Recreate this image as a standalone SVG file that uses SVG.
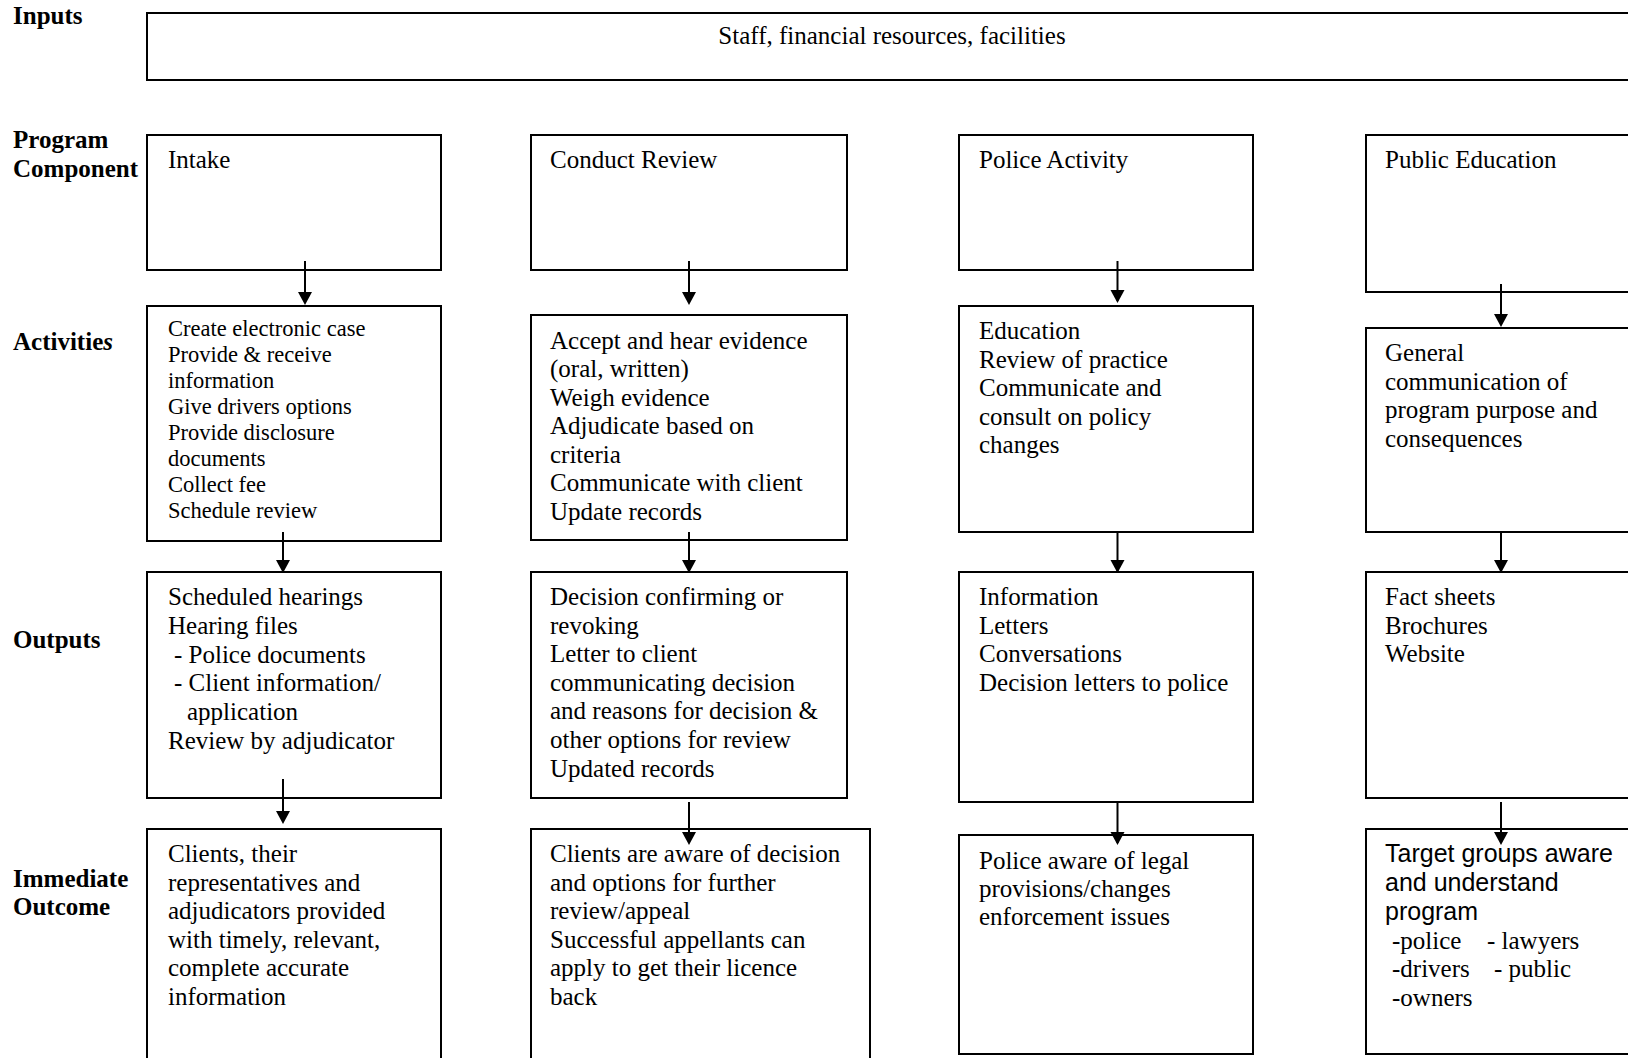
<svg xmlns="http://www.w3.org/2000/svg" width="1628" height="1058" viewBox="0 0 1628 1058">
<style>
.box{fill:#fff;stroke:#000;stroke-width:2}
.t{font-family:"Liberation Serif","Times New Roman",serif;font-size:25px;fill:#000}
.s{font-family:"Liberation Serif","Times New Roman",serif;font-size:22.5px;fill:#000}
.a{font-family:"Liberation Sans",Arial,sans-serif;font-size:25px;fill:#000}
.lbl{font-family:"Liberation Serif","Times New Roman",serif;font-size:25px;font-weight:bold;fill:#000}
.c{stroke:#000;stroke-width:2;fill:none;marker-end:url(#ah)}
</style>
<defs>
<marker id="ah" markerUnits="userSpaceOnUse" markerWidth="16" markerHeight="16" viewBox="0 -8 13 16" refX="11" refY="0" orient="auto">
<path d="M0,-7 L13,0 L0,7 Z" fill="#000"/>
</marker>
</defs>
<rect width="1628" height="1058" fill="#fff"/>

<g id="labels">
<text class="lbl" x="13" y="24">Inputs</text>
<text class="lbl" x="13" y="148">Program</text>
<text class="lbl" x="13" y="177">Component</text>
<text class="lbl" x="13" y="350">Activitie<tspan font-style="italic">s</tspan></text>
<text class="lbl" x="13" y="648">Outputs</text>
<text class="lbl" x="13" y="887">Immediate</text>
<text class="lbl" x="13" y="915">Outcome</text>
</g>

<g id="inputs">
<rect class="box" x="147" y="13" width="1500" height="67"/>
<text class="t" x="892" y="44" text-anchor="middle">Staff, financial resources, facilities</text>
</g>

<g id="intake">
<rect class="box" x="147" y="135" width="294" height="135"/>
<text class="t" x="168" y="168">Intake</text>
</g>
<g id="conduct-review">
<rect class="box" x="531" y="135" width="316" height="135"/>
<text class="t" x="550" y="168">Conduct Review</text>
</g>
<g id="police-activity">
<rect class="box" x="959" y="135" width="294" height="135"/>
<text class="t" x="979" y="168">Police Activity</text>
</g>
<g id="public-education">
<rect class="box" x="1366" y="135" width="280" height="157"/>
<text class="t" x="1385" y="168">Public Education</text>
</g>

<g id="intake-activities">
<rect class="box" x="147" y="306" width="294" height="235"/>
<text class="s">
<tspan x="168" y="336">Create electronic case</tspan>
<tspan x="168" y="362">Provide &amp; receive</tspan>
<tspan x="168" y="388">information</tspan>
<tspan x="168" y="414">Give drivers options</tspan>
<tspan x="168" y="440">Provide disclosure</tspan>
<tspan x="168" y="466">documents</tspan>
<tspan x="168" y="492">Collect fee</tspan>
<tspan x="168" y="518">Schedule review</tspan>
</text>
</g>
<g id="review-activities">
<rect class="box" x="531" y="315" width="316" height="225"/>
<text class="t">
<tspan x="550" y="348.5">Accept and hear evidence</tspan>
<tspan x="550" y="377">(oral, written)</tspan>
<tspan x="550" y="405.5">Weigh evidence</tspan>
<tspan x="550" y="434">Adjudicate based on</tspan>
<tspan x="550" y="462.5">criteria</tspan>
<tspan x="550" y="491">Communicate with client</tspan>
<tspan x="550" y="519.5">Update records</tspan>
</text>
</g>
<g id="police-activities">
<rect class="box" x="959" y="306" width="294" height="226"/>
<text class="t">
<tspan x="979" y="339">Education</tspan>
<tspan x="979" y="367.5">Review of practice</tspan>
<tspan x="979" y="396">Communicate and</tspan>
<tspan x="979" y="424.5">consult on policy</tspan>
<tspan x="979" y="453">changes</tspan>
</text>
</g>
<g id="education-activities">
<rect class="box" x="1366" y="328" width="280" height="204"/>
<text class="t">
<tspan x="1385" y="361">General</tspan>
<tspan x="1385" y="389.5">communication of</tspan>
<tspan x="1385" y="418">program purpose and</tspan>
<tspan x="1385" y="446.5">consequences</tspan>
</text>
</g>

<g id="intake-outputs">
<rect class="box" x="147" y="572" width="294" height="226"/>
<text class="t">
<tspan x="168" y="605">Scheduled hearings</tspan>
<tspan x="168" y="633.8">Hearing files</tspan>
<tspan x="174" y="662.6">- Police documents</tspan>
<tspan x="174" y="691.4">- Client information/</tspan>
<tspan x="187" y="720.2">application</tspan>
<tspan x="168" y="749">Review by adjudicator</tspan>
</text>
</g>
<g id="review-outputs">
<rect class="box" x="531" y="572" width="316" height="226"/>
<text class="t">
<tspan x="550" y="605">Decision confirming or</tspan>
<tspan x="550" y="633.6">revoking</tspan>
<tspan x="550" y="662.2">Letter to client</tspan>
<tspan x="550" y="690.8">communicating decision</tspan>
<tspan x="550" y="719.4">and reasons for decision &amp;</tspan>
<tspan x="550" y="748">other options for review</tspan>
<tspan x="550" y="776.6">Updated records</tspan>
</text>
</g>
<g id="police-outputs">
<rect class="box" x="959" y="572" width="294" height="230"/>
<text class="t">
<tspan x="979" y="605">Information</tspan>
<tspan x="979" y="633.6">Letters</tspan>
<tspan x="979" y="662.2">Conversations</tspan>
<tspan x="979" y="690.8">Decision letters to police</tspan>
</text>
</g>
<g id="education-outputs">
<rect class="box" x="1366" y="572" width="280" height="226"/>
<text class="t">
<tspan x="1385" y="605">Fact sheets</tspan>
<tspan x="1385" y="633.6">Brochures</tspan>
<tspan x="1385" y="662.2">Website</tspan>
</text>
</g>

<g id="intake-outcome">
<rect class="box" x="147" y="829" width="294" height="250"/>
<text class="t">
<tspan x="168" y="862">Clients, their</tspan>
<tspan x="168" y="890.6">representatives and</tspan>
<tspan x="168" y="919.2">adjudicators provided</tspan>
<tspan x="168" y="947.8">with timely, relevant,</tspan>
<tspan x="168" y="976.4">complete accurate</tspan>
<tspan x="168" y="1005">information</tspan>
</text>
</g>
<g id="review-outcome">
<rect class="box" x="531" y="829" width="339" height="250"/>
<text class="t">
<tspan x="550" y="862">Clients are aware of decision</tspan>
<tspan x="550" y="890.6">and options for further</tspan>
<tspan x="550" y="919.2">review/appeal</tspan>
<tspan x="550" y="947.8">Successful appellants can</tspan>
<tspan x="550" y="976.4">apply to get their licence</tspan>
<tspan x="550" y="1005">back</tspan>
</text>
</g>
<g id="police-outcome">
<rect class="box" x="959" y="835" width="294" height="219"/>
<text class="t">
<tspan x="979" y="868.5">Police aware of legal</tspan>
<tspan x="979" y="897">provisions/changes</tspan>
<tspan x="979" y="924.5">enforcement issues</tspan>
</text>
</g>
<g id="education-outcome">
<rect class="box" x="1366" y="829" width="280" height="225"/>
<text class="a">
<tspan x="1385" y="861.5">Target groups aware</tspan>
<tspan x="1385" y="890.5">and understand</tspan>
<tspan x="1385" y="920">program</tspan>
</text>
<text class="t">
<tspan x="1392" y="949">-police</tspan>
<tspan x="1487" y="949">- lawyers</tspan>
<tspan x="1392" y="977">-drivers</tspan>
<tspan x="1494" y="977">- public</tspan>
<tspan x="1392" y="1005.5">-owners</tspan>
</text>
</g>

<g id="connectors">
<line class="c" x1="305" y1="261" x2="305" y2="303"/>
<line class="c" x1="689" y1="261" x2="689" y2="303"/>
<line class="c" x1="1117.5" y1="261" x2="1117.5" y2="301"/>
<line class="c" x1="1501" y1="284" x2="1501" y2="325"/>
<line class="c" x1="283" y1="532" x2="283" y2="571"/>
<line class="c" x1="689" y1="532" x2="689" y2="571"/>
<line class="c" x1="1117.5" y1="532" x2="1117.5" y2="571"/>
<line class="c" x1="1501" y1="532" x2="1501" y2="571"/>
<line class="c" x1="283" y1="779" x2="283" y2="822"/>
<line class="c" x1="689" y1="802" x2="689" y2="843"/>
<line class="c" x1="1117.5" y1="802" x2="1117.5" y2="843"/>
<line class="c" x1="1501" y1="802" x2="1501" y2="843"/>
</g>
</svg>
